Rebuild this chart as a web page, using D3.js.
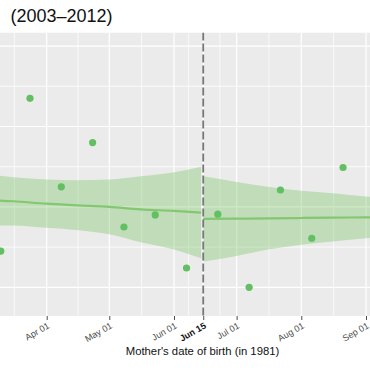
<!DOCTYPE html>
<html>
<head>
<meta charset="utf-8">
<script src="https://cdn.jsdelivr.net/npm/d3@7"></script>
<style>
  html, body { margin: 0; padding: 0; background: #ffffff; }
  svg { display: block; font-family: "Liberation Sans", Arial, Helvetica, sans-serif; }
</style>
</head>
<body>
<svg id="chart" width="370" height="370"></svg>
<script>
// ---- Data ----
const title = "(2003–2012)";
const xTitle = "Mother's date of birth (in 1981)";
const cutoffDate = "1981-06-15";

// semi-monthly bin mid-dates and their observed values
const binDates = ["1981-03-10","1981-03-24","1981-04-08","1981-04-23","1981-05-08","1981-05-23",
                  "1981-06-07","1981-06-22","1981-07-07","1981-07-22","1981-08-06","1981-08-21"];
const binValues = [4.45, 6.35, 5.25, 5.80, 4.75, 4.90, 4.24, 4.91, 4.00, 5.21, 4.61, 5.49];

// fitted line and 95% band, before the cutoff
const fitBeforeDates = ["1981-03-01","1981-03-16","1981-04-01","1981-04-16","1981-05-01","1981-05-16","1981-06-01","1981-06-14"];
const fitBeforeValues = [5.09, 5.07, 5.04, 5.02, 5.00, 4.97, 4.95, 4.93];
const fitBeforeLower  = [4.77, 4.77, 4.74, 4.71, 4.66, 4.56, 4.47, 4.36];
const fitBeforeUpper  = [5.41, 5.37, 5.34, 5.33, 5.34, 5.38, 5.43, 5.50];

// fitted line and 95% band, after the cutoff
const fitAfterDates = ["1981-06-15","1981-07-01","1981-07-16","1981-08-01","1981-08-16","1981-09-01","1981-09-16"];
const fitAfterValues = [4.85, 4.853, 4.858, 4.862, 4.866, 4.87, 4.874];
const fitAfterLower  = [4.32, 4.39, 4.47, 4.53, 4.57, 4.61, 4.63];
const fitAfterUpper  = [5.38, 5.31, 5.25, 5.20, 5.17, 5.13, 5.12];

// axis ticks (Mar 01 only feeds the grid; its label lies outside the picture)
const gridDates  = ["1981-03-01","1981-04-01","1981-05-01","1981-06-01","1981-06-15","1981-07-01","1981-08-01","1981-09-01"];
const tickDates  = ["1981-04-01","1981-05-01","1981-06-01","1981-06-15","1981-07-01","1981-08-01","1981-09-01"];
const tickLabels = ["Apr 01","May 01","Jun 01","Jun 15","Jul 01","Aug 01","Sep 01"];
const yGridValues = [4.0, 4.5, 5.0, 5.5, 6.0, 6.5, 7.0];

// ---- Layout ----
const parse = d3.timeParse("%Y-%m-%d");
const panel = { left: 0, right: 370, top: 32.5, bottom: 316 };

const x = d3.scaleTime()
  .domain([parse("1981-04-01"), parse("1981-09-01")])
  .range([46.7, 366.0]);
const y = d3.scaleLinear()
  .domain([4, 7])
  .range([287.3, 46.1]);

const svg = d3.select("#chart");

svg.append("defs").append("clipPath").attr("id", "panelClip")
  .append("rect")
  .attr("x", panel.left).attr("y", panel.top)
  .attr("width", panel.right - panel.left).attr("height", panel.bottom - panel.top);

// title
svg.append("text")
  .attr("x", 10.5).attr("y", 21.8)
  .attr("font-size", 18).attr("fill", "#111")
  .text(title);

const g = svg.append("g").attr("clip-path", "url(#panelClip)");

// panel background
g.append("rect")
  .attr("x", panel.left).attr("y", panel.top)
  .attr("width", panel.right - panel.left).attr("height", panel.bottom - panel.top)
  .attr("fill", "#ebebeb");

// grid lines
const majorTicks = gridDates.map(parse);
const minorTicks = [];
for (let i = 0; i < majorTicks.length - 1; i++) {
  minorTicks.push(new Date((majorTicks[i].getTime() + majorTicks[i + 1].getTime()) / 2));
}
g.selectAll("line.vminor").data(minorTicks).join("line")
  .attr("x1", d => x(d)).attr("x2", d => x(d))
  .attr("y1", panel.top).attr("y2", panel.bottom)
  .attr("stroke", "#ffffff").attr("stroke-width", 0.7);
g.selectAll("line.vmajor").data(majorTicks).join("line")
  .attr("x1", d => x(d)).attr("x2", d => x(d))
  .attr("y1", panel.top).attr("y2", panel.bottom)
  .attr("stroke", "#ffffff").attr("stroke-width", 1.2);
g.selectAll("line.hgrid").data(yGridValues).join("line")
  .attr("x1", panel.left).attr("x2", panel.right)
  .attr("y1", d => y(d)).attr("y2", d => y(d))
  .attr("stroke", "#ffffff").attr("stroke-width", (d, i) => i % 2 === 0 ? 1.2 : 0.8);

// ribbons and fitted lines
function drawFit(dates, fit, lo, hi) {
  const rows = dates.map((d, i) => ({ date: parse(d), fit: fit[i], lo: lo[i], hi: hi[i] }));
  const area = d3.area()
    .x(d => x(d.date)).y0(d => y(d.lo)).y1(d => y(d.hi))
    .curve(d3.curveMonotoneX);
  g.append("path").datum(rows)
    .attr("d", area)
    .attr("fill", "#7cc46a").attr("fill-opacity", 0.38);
  const line = d3.line().x(d => x(d.date)).y(d => y(d.fit)).curve(d3.curveMonotoneX);
  g.append("path").datum(rows)
    .attr("d", line)
    .attr("fill", "none").attr("stroke", "#84c771").attr("stroke-width", 2.2);
}
drawFit(fitBeforeDates, fitBeforeValues, fitBeforeLower, fitBeforeUpper);
drawFit(fitAfterDates, fitAfterValues, fitAfterLower, fitAfterUpper);

// points
const points = binDates.map((d, i) => ({ date: parse(d), value: binValues[i] }));
g.selectAll("circle.pt").data(points).join("circle")
  .attr("cx", d => x(d.date)).attr("cy", d => y(d.value))
  .attr("r", 3.6).attr("fill", "#62bf62");

// cutoff dashed line
g.append("line")
  .attr("x1", x(parse(cutoffDate))).attr("x2", x(parse(cutoffDate)))
  .attr("y1", panel.top).attr("y2", panel.bottom)
  .attr("stroke", "#777777").attr("stroke-width", 1.8)
  .attr("stroke-dasharray", "8,3");

// x axis
const axis = d3.axisBottom(x)
  .tickValues(tickDates.map(parse))
  .tickFormat((d, i) => tickLabels[i])
  .tickSize(4).tickPadding(2);
const ax = svg.append("g").attr("transform", `translate(0,${panel.bottom})`).call(axis);
ax.select(".domain").remove();
ax.selectAll(".tick line").attr("stroke", "#4d4d4d").attr("stroke-width", 1);
ax.selectAll(".tick text")
  .attr("font-family", "'Liberation Sans', Arial, sans-serif")
  .attr("font-size", 9)
  .attr("fill", (d, i) => tickLabels[i] === "Jun 15" ? "#111" : "#4d4d4d")
  .attr("font-weight", (d, i) => tickLabels[i] === "Jun 15" ? "bold" : "normal")
  .attr("text-anchor", "end")
  .attr("dy", null)
  .attr("y", 0)
  .attr("transform", "translate(3,11.5) rotate(-30)");

// x axis title
svg.append("text")
  .attr("x", 202.5).attr("y", 355)
  .attr("text-anchor", "middle")
  .attr("font-size", 11.3).attr("fill", "#111")
  .text(xTitle);
</script>
</body>
</html>
